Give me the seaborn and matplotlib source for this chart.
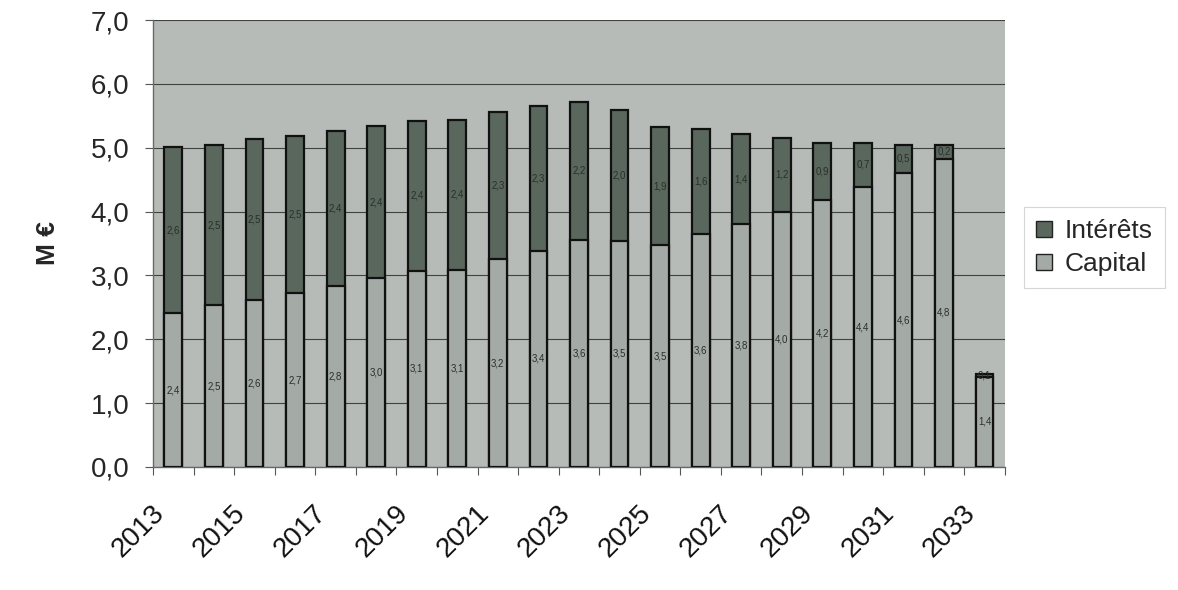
import matplotlib
matplotlib.use("Agg")
import matplotlib.pyplot as plt
import matplotlib.transforms as mtransforms
from matplotlib.patches import Patch
from matplotlib.ticker import FixedLocator, FuncFormatter
import seaborn as sns
import pandas as pd

# Annual debt service split into principal and interest (millions of euros)
years = [str(y) for y in range(2013, 2034)]
capital = [2.41, 2.53, 2.62, 2.72, 2.84, 2.96, 3.07, 3.09, 3.25, 3.39, 3.56,
           3.54, 3.47, 3.65, 3.80, 4.00, 4.18, 4.38, 4.60, 4.83, 1.41]
interets = [2.60, 2.51, 2.51, 2.46, 2.43, 2.38, 2.35, 2.35, 2.31, 2.26, 2.16,
            2.05, 1.85, 1.65, 1.42, 1.16, 0.90, 0.70, 0.45, 0.22, 0.05]

df = pd.DataFrame({"annee": years, "Capital": capital, "Intérêts": interets})
df["total"] = df["Capital"] + df["Intérêts"]

sns.set_theme(style="white")
plt.rcParams["font.family"] = ["Liberation Sans", "DejaVu Sans"]

col_cap = "#a4aaa5"
col_int = "#59675d"
col_bg = "#b7bbb7"

fig = plt.figure(figsize=(11.78, 5.90), dpi=100)
fig.patch.set_facecolor("white")
ax = fig.add_axes([0.130, 0.2085, 0.723, 0.7575])
ax.set_facecolor(col_bg)

bar_w = 0.44
# Stacked bars: full height in the interest colour, principal drawn over it
sns.barplot(data=df, x="annee", y="total", color=col_int, width=bar_w,
            edgecolor="#111111", linewidth=1.6, saturation=1, ax=ax, zorder=3)
sns.barplot(data=df, x="annee", y="Capital", color=col_cap, width=bar_w,
            edgecolor="#111111", linewidth=1.6, saturation=1, ax=ax, zorder=4)

# Value labels centred in each segment
for i, (c, it) in enumerate(zip(capital, interets)):
    ax.text(i, c / 2, f"{c:.1f}".replace(".", ","), ha="center", va="center",
            fontsize=7, color="#2a2f2b", zorder=5)
    ax.text(i, c + it / 2, f"{it:.1f}".replace(".", ","), ha="center",
            va="center", fontsize=7, color="#2a2f2b", zorder=5)

ax.set_ylim(0, 7)
ax.set_xlim(-0.5, len(years) - 0.5)
ax.yaxis.set_major_locator(FixedLocator([0, 1, 2, 3, 4, 5, 6, 7]))
ax.yaxis.set_major_formatter(FuncFormatter(lambda v, p: f"{v:.1f}".replace(".", ",")))
ax.grid(axis="y", color="#3e433f", linewidth=0.8, zorder=1)
ax.set_axisbelow(True)

# Year labels every other category, drawn slanted below the axis;
# tick marks sit between categories
ax.set_xticks([])
ax.set_xticks([k - 0.5 for k in range(len(years) + 1)], minor=True)
ax.tick_params(axis="x", which="minor", length=6, width=0.8, color="#555555",
               direction="out", bottom=True, labelbottom=False)
label_tf = ax.get_xaxis_transform() + mtransforms.ScaledTranslation(
    -0.22, -0.33, fig.dpi_scale_trans)
for i in range(0, len(years), 2):
    ax.text(i, 0, years[i], transform=label_tf, rotation=45,
            rotation_mode="anchor", ha="right", va="top", fontsize=20,
            color="#111111")

ax.tick_params(axis="y", which="major", length=6, width=0.8, color="#555555",
               direction="out", left=True, labelsize=20, pad=11)

ax.set_xlabel("")
ax.set_ylabel("M €", fontsize=19, fontweight="bold", labelpad=22)

for side in ["top", "right"]:
    ax.spines[side].set_visible(False)
for side in ["left", "bottom"]:
    ax.spines[side].set_color("#666a66")
    ax.spines[side].set_linewidth(1.0)

handles = [Patch(facecolor=col_int, edgecolor="#222222", label="Intérêts"),
           Patch(facecolor=col_cap, edgecolor="#222222", label="Capital")]
leg = fig.legend(handles=handles, loc="center left",
                 bbox_to_anchor=(0.858, 0.58), fontsize=19, frameon=True,
                 fancybox=False, edgecolor="#cccccc", handlelength=0.6,
                 handleheight=0.6, handletextpad=0.5, labelspacing=0.35,
                 borderpad=0.45)
leg.get_frame().set_linewidth(0.8)

fig.savefig("out.png", dpi=100, facecolor="white")
